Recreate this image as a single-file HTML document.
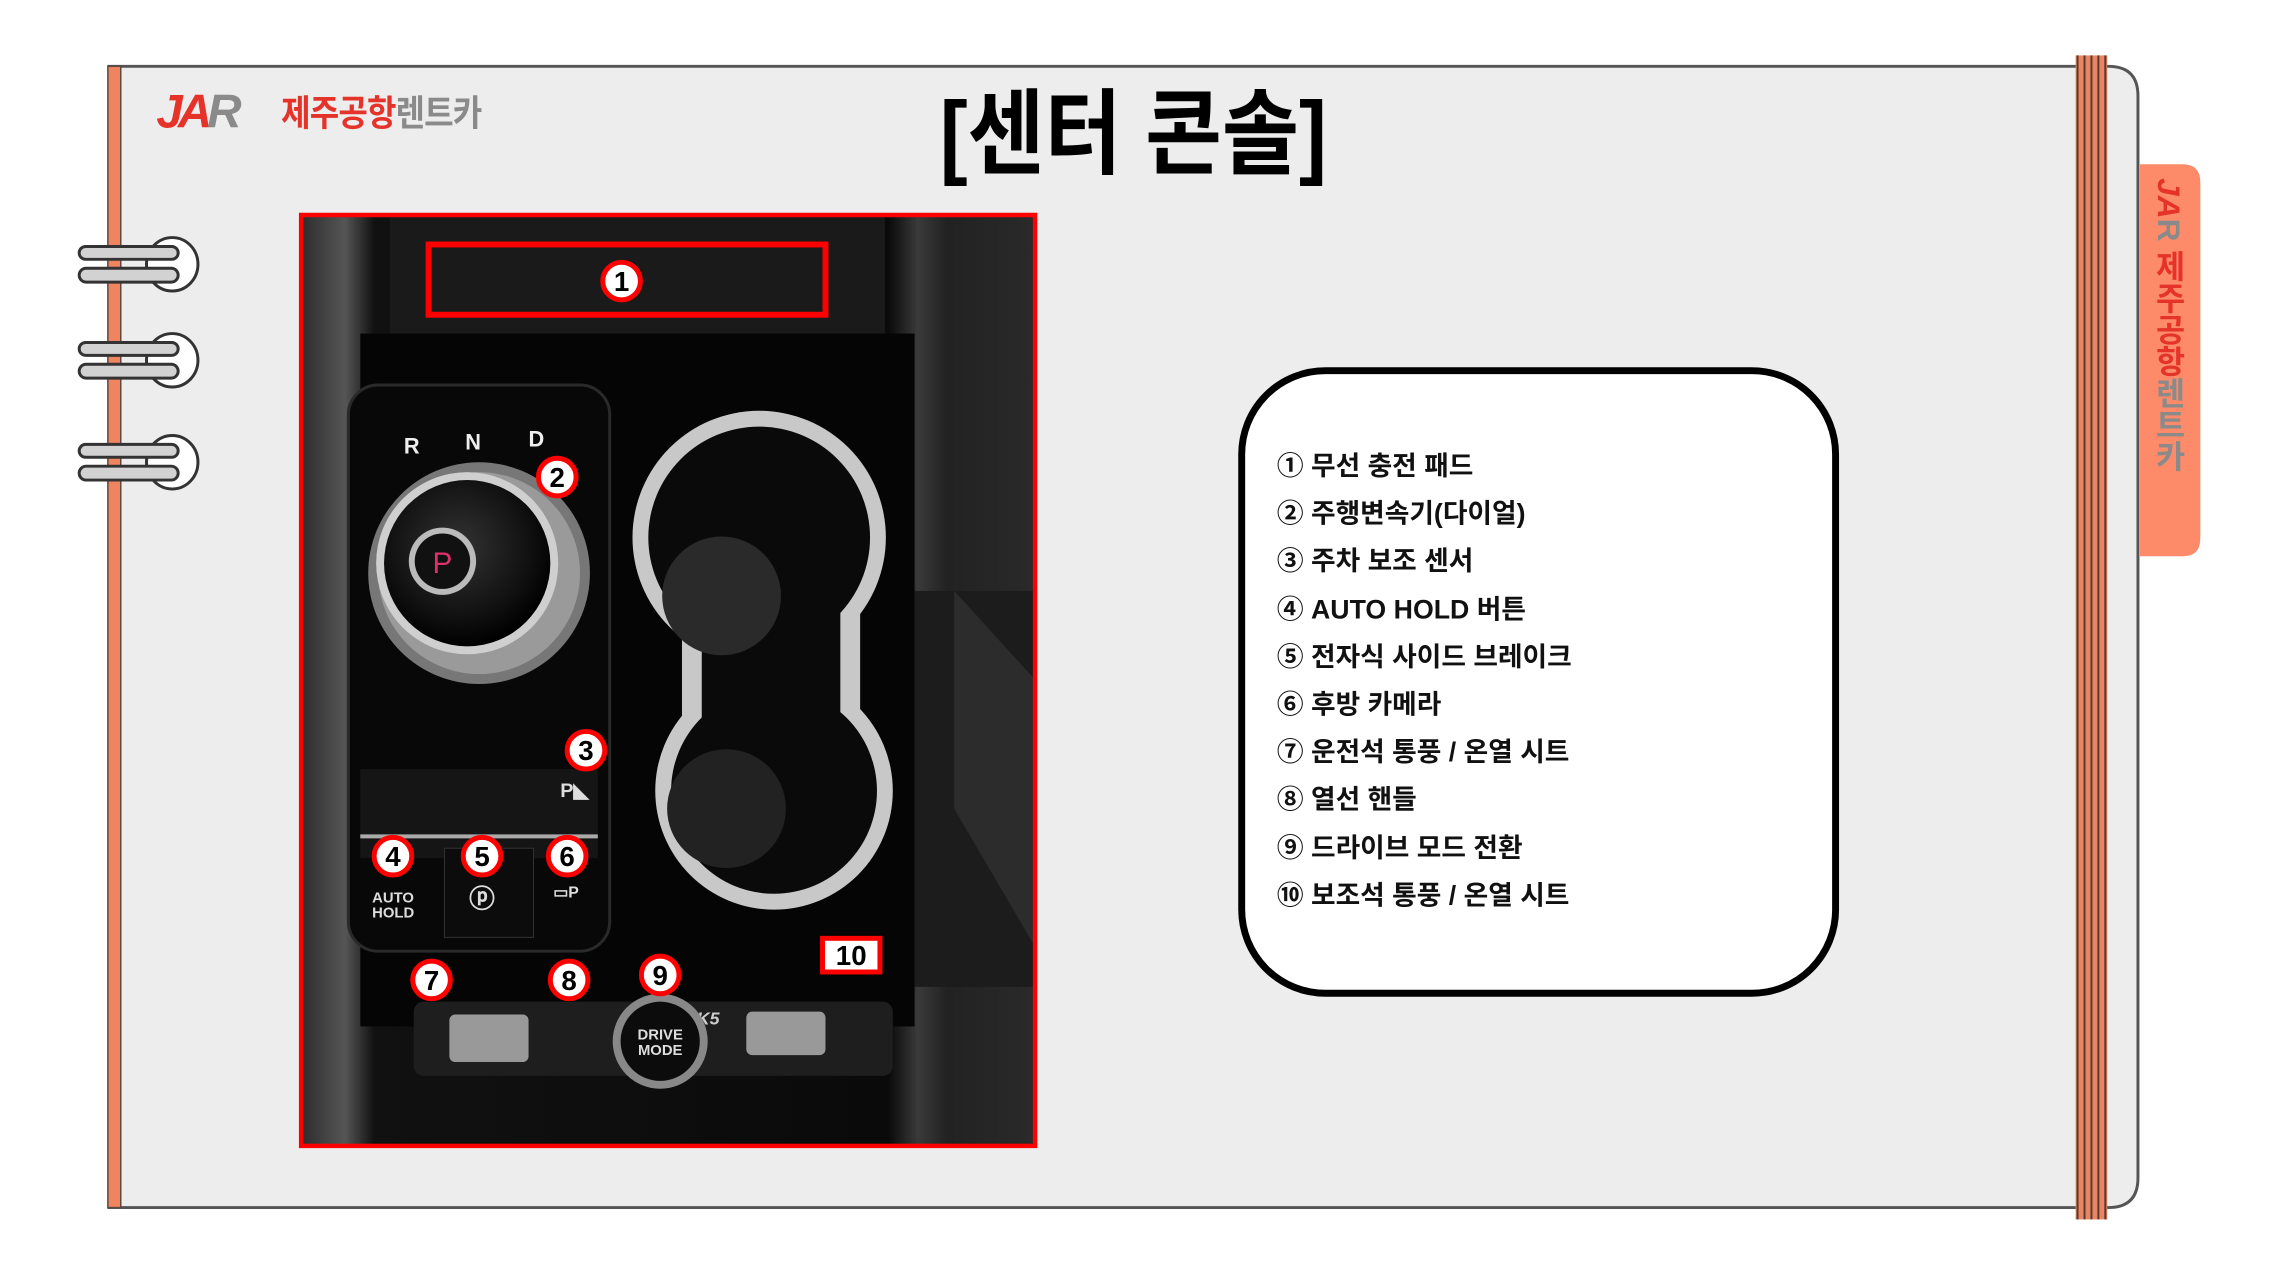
<!DOCTYPE html>
<html><head><meta charset="utf-8">
<style>
html,body{margin:0;padding:0;background:#fff;}
body{width:2276px;height:1280px;position:relative;overflow:hidden;font-family:"Liberation Sans","Noto Sans CJK KR",sans-serif;}
.abs{position:absolute;}
#wrap{position:absolute;left:0;top:0;width:2300px;height:1300px;transform:scale(0.9898);transform-origin:0 0;}
</style></head><body>
<div id="wrap">
<svg class="abs" style="left:0;top:0" width="2276" height="1280" viewBox="0 0 2276 1280">
  <path d="M110 67 H2130 Q2160 67 2160 97 V1190 Q2160 1220 2130 1220 H110 Z" fill="#ededed" stroke="#555" stroke-width="3"/>
  <rect x="109" y="67" width="13" height="1153" fill="#f08460" stroke="#5a4a40" stroke-width="1.5"/>
  <path d="M2162 166 H2205 Q2223 166 2223 184 V544 Q2223 562 2205 562 H2162 Z" fill="#fd8b6a"/>
  <rect x="2097" y="56" width="32" height="1176" fill="#e88563"/>
  <g stroke="#5a3a30" stroke-width="2">
    <line x1="2099" y1="56" x2="2099" y2="1232"/><line x1="2106" y1="56" x2="2106" y2="1232"/>
    <line x1="2113" y1="56" x2="2113" y2="1232"/><line x1="2120" y1="56" x2="2120" y2="1232"/>
    <line x1="2127" y1="56" x2="2127" y2="1232"/>
  </g>
  <g id="ring">
    <ellipse cx="174" cy="267" rx="26" ry="27" fill="#fff" stroke="#333" stroke-width="3"/>
    <rect x="80" y="249" width="100" height="13" rx="6.5" fill="#d2d2d2" stroke="#333" stroke-width="3"/>
    <rect x="80" y="271" width="100" height="14" rx="7" fill="#d2d2d2" stroke="#333" stroke-width="3"/>
  </g>
  <use href="#ring" y="97"/>
  <use href="#ring" y="200"/>
</svg>

<div class="abs" style="left:158px;top:86px;font:italic bold 48px 'Liberation Sans',sans-serif;letter-spacing:-5px;"><span style="color:#e5332a">JA</span><span style="color:#8a8a8a">R</span></div>
<div class="abs" style="left:284px;top:86px;font-weight:bold;font-size:36px;font-family:'Liberation Sans','Noto Sans CJK KR',sans-serif;transform:scaleX(0.9);transform-origin:left;white-space:nowrap;letter-spacing:-1px"><span style="color:#e5332a">제주공항</span><span style="color:#8a8a8a">렌트카</span></div>

<div class="abs" style="left:2170px;top:180px;width:44px;writing-mode:vertical-rl;font-weight:bold;font-size:32px;white-space:nowrap;font-family:'Liberation Sans','Noto Sans CJK KR',sans-serif;"><span style="color:#e5332a;font-style:italic">JA</span><span style="color:#8a8a8a">R</span> <span style="color:#e5332a">제주공항</span><span style="color:#8a8a8a">렌트카</span></div>

<div class="abs" style="left:900px;top:76px;width:490px;text-align:center;font-weight:bold;font-size:94px;line-height:120px;color:#000;font-family:'Liberation Sans','Noto Sans CJK KR',sans-serif;white-space:nowrap;transform:scaleX(0.9)">[센터 콘솔]</div>

<svg class="abs" style="left:302px;top:215px" width="746" height="945" viewBox="-2 -2 746 945">
  <defs>
    <linearGradient id="bg" x1="0" x2="1">
      <stop offset="0" stop-color="#2c2c2c"/><stop offset="0.06" stop-color="#555"/><stop offset="0.1" stop-color="#111"/>
      <stop offset="0.8" stop-color="#0a0a0a"/><stop offset="0.84" stop-color="#3a3a3a"/><stop offset="0.88" stop-color="#222"/><stop offset="1" stop-color="#2a2a2a"/>
    </linearGradient>
    <radialGradient id="dial" cx="0.45" cy="0.4" r="0.6">
      <stop offset="0" stop-color="#333"/><stop offset="0.7" stop-color="#111"/><stop offset="1" stop-color="#000"/>
    </radialGradient>
  </defs>
  <rect x="0" y="0" width="742" height="941" fill="url(#bg)"/>
  <rect x="90" y="0" width="500" height="120" fill="#1a1a1a"/>
  <rect x="60" y="120" width="560" height="700" fill="#050505"/>
  <rect x="620" y="380" width="122" height="400" fill="#1c1c1c"/>
  <path d="M660 380 L742 470 L742 740 L660 600 Z" fill="#2c2c2c"/>
  <rect x="48" y="172" width="264" height="572" rx="30" fill="#080808" stroke="#2a2a2a" stroke-width="3"/>
  <rect x="60" y="560" width="240" height="90" fill="#151515"/>
  <g font-family="Liberation Sans" font-size="22" fill="#eee" font-weight="bold">
    <text x="104" y="241">R</text><text x="166" y="237">N</text><text x="230" y="234">D</text>
  </g>
  <circle cx="180" cy="362" r="112" fill="#777"/>
  <circle cx="180" cy="362" r="102" fill="#9a9a9a"/>
  <circle cx="168" cy="352" r="92" fill="#cfcfcf"/>
  <circle cx="168" cy="352" r="84" fill="url(#dial)"/>
  <circle cx="143" cy="350" r="34" fill="#bbb"/>
  <circle cx="143" cy="350" r="28" fill="#111"/>
  <text x="133" y="362" font-family="Liberation Sans" font-size="30" fill="#e0306a">P</text>
  <line x1="60" y1="628" x2="300" y2="628" stroke="#aaa" stroke-width="4"/>
  <rect x="145" y="640" width="90" height="90" fill="#0c0c0c" stroke="#333"/>
  <g font-family="Liberation Sans" fill="#ddd" font-weight="bold">
    <text x="72" y="695" font-size="15">AUTO</text><text x="72" y="710" font-size="15">HOLD</text>
    <text x="170" y="700" font-size="26">ⓟ</text>
    <text x="255" y="690" font-size="16">▭P</text>
    <text x="262" y="588" font-size="20">P◣</text>
  </g>
  <g fill="#c8c8c8">
    <circle cx="463" cy="326" r="128"/>
    <circle cx="478" cy="582" r="120"/>
    <rect x="385" y="400" width="180" height="120"/>
  </g>
  <g fill="#0a0a0a">
    <circle cx="463" cy="326" r="112"/>
    <circle cx="478" cy="582" r="104"/>
    <rect x="405" y="400" width="140" height="130"/>
  </g>
  <circle cx="425" cy="385" r="60" fill="#2a2a2a"/>
  <circle cx="430" cy="600" r="60" fill="#222"/>
  <rect x="114" y="795" width="484" height="75" rx="10" fill="#1e1e1e"/>
  <rect x="150" y="808" width="80" height="48" rx="6" fill="#999"/>
  <rect x="450" y="805" width="80" height="44" rx="6" fill="#999"/>
  <text x="400" y="818" font-family="Liberation Sans" font-size="18" font-style="italic" font-weight="bold" fill="#ccc">K5</text>
  <circle cx="363" cy="835" r="48" fill="#888"/>
  <circle cx="363" cy="835" r="40" fill="#0c0c0c"/>
  <text x="363" y="833" text-anchor="middle" font-family="Liberation Sans" font-size="15" fill="#ddd" font-weight="bold">DRIVE</text>
  <text x="363" y="849" text-anchor="middle" font-family="Liberation Sans" font-size="15" fill="#ddd" font-weight="bold">MODE</text>
  <rect x="129" y="30" width="401" height="71" fill="none" stroke="#f00" stroke-width="6"/>
  <g font-family="Liberation Sans" font-weight="bold" font-size="28" text-anchor="middle">
    <circle cx="324" cy="67" r="19" fill="#fff" stroke="#f00" stroke-width="5"/><text x="324" y="77">1</text>
    <circle cx="259" cy="265" r="19" fill="#fff" stroke="#f00" stroke-width="5"/><text x="259" y="275">2</text>
    <circle cx="288" cy="541" r="19" fill="#fff" stroke="#f00" stroke-width="5"/><text x="288" y="551">3</text>
    <circle cx="93" cy="648" r="19" fill="#fff" stroke="#f00" stroke-width="5"/><text x="93" y="658">4</text>
    <circle cx="183" cy="648" r="19" fill="#fff" stroke="#f00" stroke-width="5"/><text x="183" y="658">5</text>
    <circle cx="269" cy="648" r="19" fill="#fff" stroke="#f00" stroke-width="5"/><text x="269" y="658">6</text>
    <circle cx="132" cy="773" r="19" fill="#fff" stroke="#f00" stroke-width="5"/><text x="132" y="783">7</text>
    <circle cx="271" cy="773" r="19" fill="#fff" stroke="#f00" stroke-width="5"/><text x="271" y="783">8</text>
    <circle cx="363" cy="768" r="19" fill="#fff" stroke="#f00" stroke-width="5"/><text x="363" y="778">9</text>
    <rect x="527" y="731" width="58" height="34" fill="#fff" stroke="#f00" stroke-width="5"/><text x="556" y="758">10</text>
  </g>
  <rect x="0" y="0" width="742" height="941" fill="none" stroke="#f00" stroke-width="5"/>
</svg>

<div class="abs" style="left:1251px;top:371px;width:593px;height:622px;border:7px solid #000;border-radius:88px;background:#fff;"></div>
<div class="abs" style="left:1290px;top:447px;font-weight:bold;font-size:27px;line-height:48.2px;color:#111;font-family:'Liberation Sans','Noto Sans CJK KR',sans-serif;white-space:nowrap">
① 무선 충전 패드<br>② 주행변속기(다이얼)<br>③ 주차 보조 센서<br>④ AUTO HOLD 버튼<br>⑤ 전자식 사이드 브레이크<br>⑥ 후방 카메라<br>⑦ 운전석 통풍 / 온열 시트<br>⑧ 열선 핸들<br>⑨ 드라이브 모드 전환<br>⑩ 보조석 통풍 / 온열 시트
</div>
</div>
</body></html>
